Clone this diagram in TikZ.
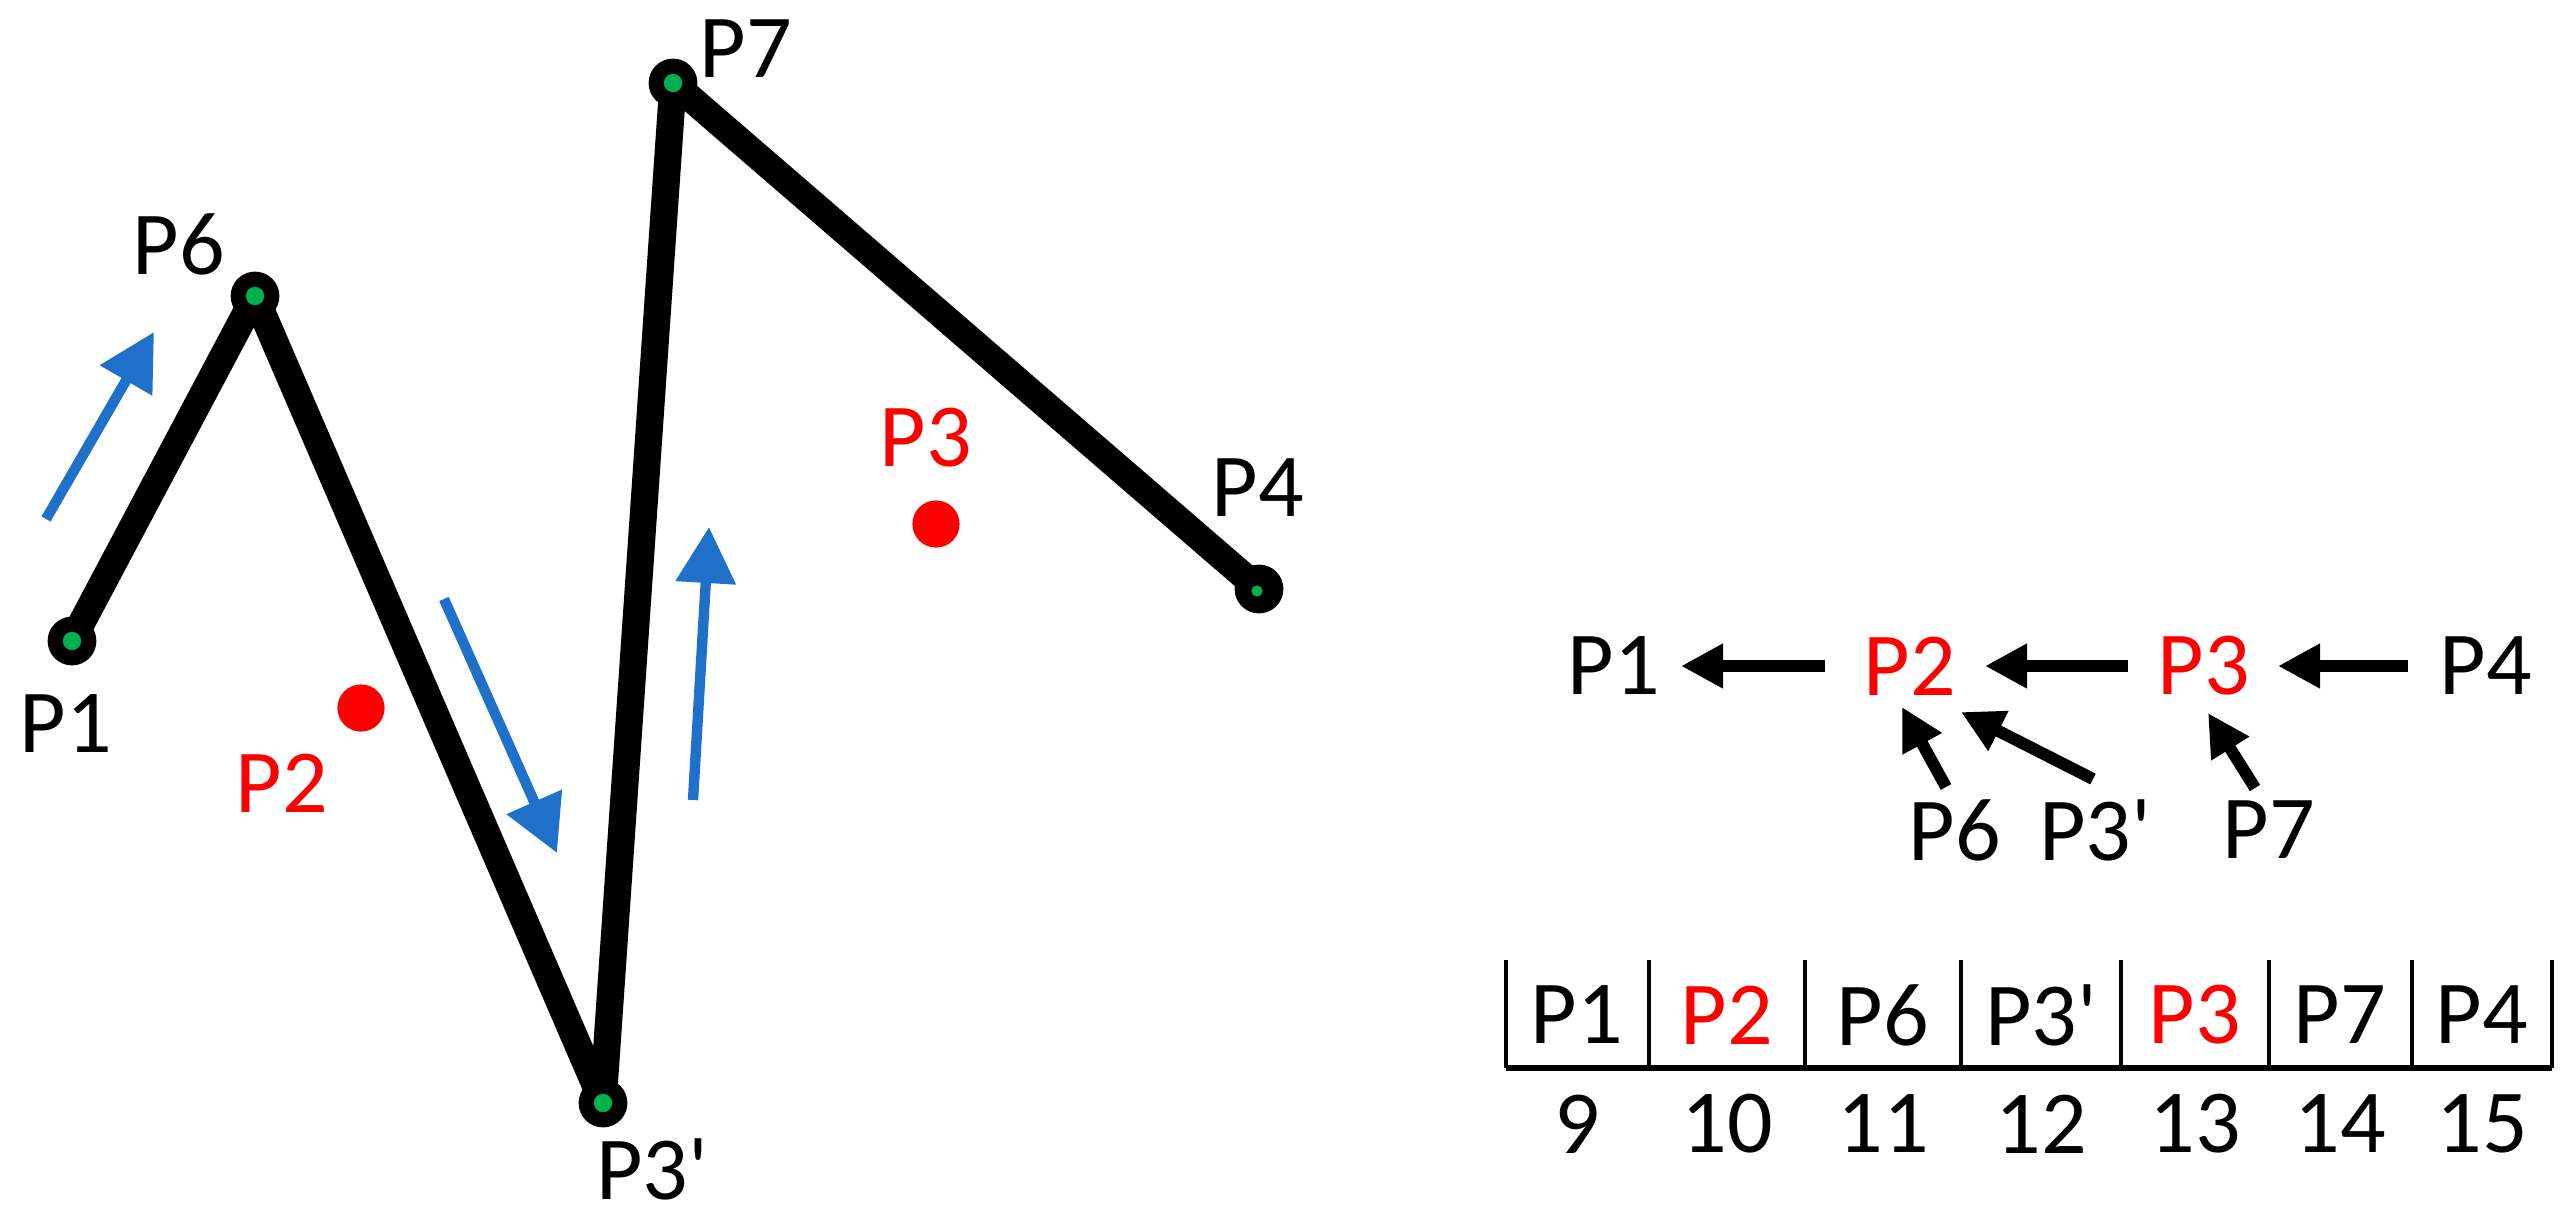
\documentclass[tikz,border=0pt]{standalone}
\usepackage{fontspec}
\newfontfamily\calfont{Carlito}
\usetikzlibrary{arrows.meta}
\definecolor{ptblue}{RGB}{31,112,200}
\definecolor{ptgreen}{RGB}{0,176,80}
\definecolor{ptred}{RGB}{255,0,0}
\begin{document}
\begin{tikzpicture}[x=0.25pt,y=-0.25pt,
  lbl/.style={inner sep=0pt, font=\calfont\fontsize{22.5}{27}\selectfont},
  redlbl/.style={lbl, text=ptred},
  poly/.style={line width=6.8pt, line join=round, line cap=round},
  blueArrow/.style={draw=ptblue, line width=2.6pt, -{Triangle[length=14pt,width=14.5pt]}, ptblue},
  rarrow/.style={line width=3pt, -{Triangle[length=10.5pt,width=10.5pt]}},
  vline/.style={line width=0.9pt},
]
\useasboundingbox (0,0) rectangle (2572,1222);

% ---------- left: polyline ----------
\coordinate (v1) at (72,641);
\coordinate (v6) at (255,296);
\coordinate (v3p) at (603,1103);
\coordinate (v7) at (673,83);
\coordinate (v4) at (1259,589);

\draw[poly] (v1) -- (v6) -- (v3p) -- (v7) -- (v4);
\foreach \v in {v1,v6,v3p,v7}{
  \fill[black] (\v) circle[radius=6.1pt];
  \fill[ptgreen] (\v) circle[radius=2.3pt];
}
\fill[black] (v4) circle[radius=6.1pt];
\fill[ptgreen] (v4) ++(-2,2) circle[radius=1.4pt];

% red points
\coordinate (d2) at (361,708);
\coordinate (d3) at (936,524);
\fill[ptred] (d2) circle[radius=5.9pt];
\fill[ptred] (d3) circle[radius=5.9pt];

% labels
\node[lbl] (l1) at (66,724) {P1};
\node[lbl] (l6) at (179,244) {P6};
\node[lbl] (l7) at (746,49) {P7};
\node[lbl] (l4) at (1258,488) {P4};
\node[lbl] (l3p) at (652,1169) {P3'};
\node[redlbl] (l2) at (282,783) {P2};
\node[redlbl] (l3) at (926,438) {P3};

% blue direction arrows
\coordinate (a1s) at (46,519);  \coordinate (a1e) at (154,332);
\coordinate (a2s) at (444,599); \coordinate (a2e) at (557,853);
\coordinate (a3s) at (693,800); \coordinate (a3e) at (709,527);
\draw[blueArrow] (a1s) -- (a1e);
\draw[blueArrow] (a2s) -- (a2e);
\draw[blueArrow] (a3s) -- (a3e);

% ---------- right: tree ----------
\node[lbl] (r1) at (1614,666) {P1};
\node[redlbl] (r2) at (1910,666) {P2};
\node[redlbl] (r3) at (2204,666) {P3};
\node[lbl] (r4) at (2486,666) {P4};
\node[lbl] (r6) at (1955,830) {P6};
\node[lbl] (r3p) at (2095,830) {P3'};
\node[lbl] (r7) at (2269,830) {P7};

\draw[rarrow] ([shift={(-85,0)}]r2.center) -- ([shift={(67,0)}]r1.center);
\draw[rarrow] ([shift={(-76,0)}]r3.center) -- ([shift={(75,0)}]r2.center);
\draw[rarrow] ([shift={(-78,0)}]r4.center) -- ([shift={(74,0)}]r3.center);
\draw[rarrow] ([shift={(-9,-43)}]r6.center) -- ([shift={(-8,41)}]r2.center);
\draw[rarrow] ([shift={(-2,-51)}]r3p.center) -- ([shift={(51,46)}]r2.center);
\draw[rarrow] ([shift={(-14,-42)}]r7.center) -- ([shift={(4,47)}]r3.center);

% ---------- right: table ----------
\foreach \x in {1506,1649,1805,1961,2121,2269,2412,2552}{
  \draw[vline] (\x,960) -- (\x,1068);
}
\draw[line width=1.3pt] (1506,1068) -- (2552,1068);

\node[lbl] (c1) at (1577,1015) {P1};
\node[redlbl] (c2) at (1727,1015) {P2};
\node[lbl] (c3) at (1883,1015) {P6};
\node[lbl] (c4) at (2041,1015) {P3'};
\node[redlbl] (c5) at (2195,1015) {P3};
\node[lbl] (c6) at (2340,1015) {P7};
\node[lbl] (c7) at (2482,1015) {P4};

\node[lbl] (n1) at (1577,1124) {9};
\node[lbl] (n2) at (1727,1124) {10};
\node[lbl] (n3) at (1883,1124) {11};
\node[lbl] (n4) at (2041,1124) {12};
\node[lbl] (n5) at (2195,1124) {13};
\node[lbl] (n6) at (2340,1124) {14};
\node[lbl] (n7) at (2482,1124) {15};
\end{tikzpicture}
\end{document}
